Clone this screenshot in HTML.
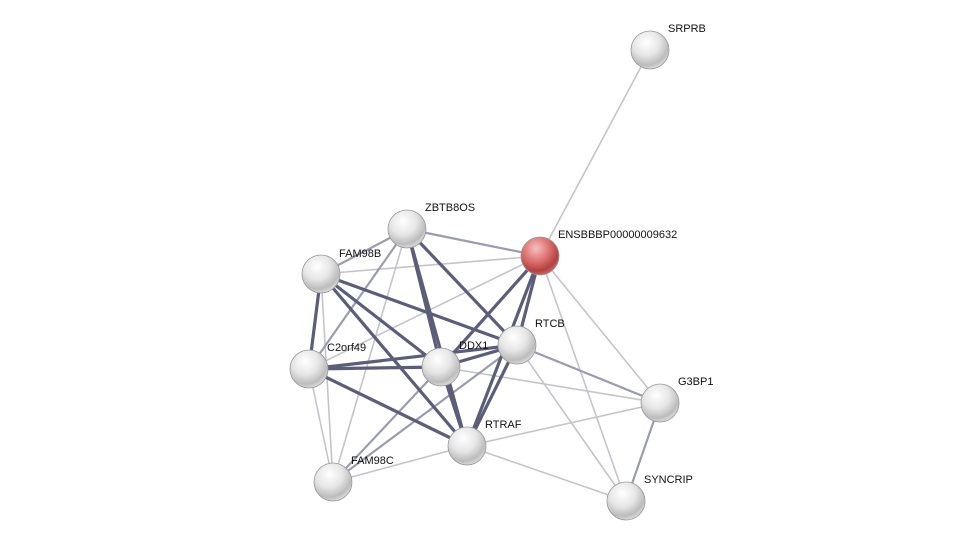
<!DOCTYPE html>
<html><head><meta charset="utf-8"><style>
html,body{margin:0;padding:0;background:#fff;}
svg{display:block;}
text{font-family:"Liberation Sans",sans-serif;font-size:11px;fill:#111;}
</style></head><body>
<svg width="975" height="546" viewBox="0 0 975 546" xmlns="http://www.w3.org/2000/svg">
<defs>
<radialGradient id="g" cx="40%" cy="30%" r="70%">
<stop offset="0" stop-color="#ffffff"/><stop offset="0.5" stop-color="#e6e6e6"/><stop offset="0.85" stop-color="#bcbcbc"/><stop offset="1" stop-color="#d8d8d8"/>
</radialGradient>
<radialGradient id="r" cx="40%" cy="30%" r="70%">
<stop offset="0" stop-color="#f6c0c0"/><stop offset="0.5" stop-color="#dd7070"/><stop offset="0.85" stop-color="#b34040"/><stop offset="1" stop-color="#c86060"/>
</radialGradient>
</defs>
<g stroke-linecap="round">
<!-- light -->
<g stroke="#c4c4cc" stroke-width="1.6">
<line x1="540" y1="256" x2="650" y2="50"/>
<line x1="540" y1="256" x2="321" y2="274"/>
<line x1="540" y1="256" x2="309" y2="369"/>
<line x1="540" y1="256" x2="660" y2="403"/>
<line x1="540" y1="256" x2="626" y2="501"/>
<line x1="407" y1="229" x2="333" y2="482"/>
<line x1="321" y1="274" x2="333" y2="482"/>
<line x1="309" y1="369" x2="333" y2="482"/>
<line x1="441" y1="367" x2="660" y2="403"/>
<line x1="517" y1="345" x2="626" y2="501"/>
<line x1="467" y1="446" x2="333" y2="482"/>
<line x1="467" y1="446" x2="660" y2="403"/>
<line x1="467" y1="446" x2="626" y2="501"/>
</g>
<!-- medium -->
<g stroke="#9a9cb0" stroke-width="2.2">
<line x1="540" y1="256" x2="407" y2="229"/>
<line x1="407" y1="229" x2="309" y2="369"/>
<line x1="407" y1="229" x2="321" y2="274"/>
<line x1="441" y1="367" x2="333" y2="482"/>
<line x1="517" y1="345" x2="333" y2="482"/>
<line x1="517" y1="345" x2="660" y2="403"/>
<line x1="660" y1="403" x2="626" y2="501"/>
</g>
<!-- dark -->
<g stroke="#5a5e78" stroke-width="3.2">
<line x1="540" y1="256" x2="441" y2="367"/>
<line x1="540" y1="256" x2="517" y2="345"/>
<line x1="540" y1="256" x2="467" y2="446"/>
<line x1="407" y1="229" x2="441" y2="367"/>
<line x1="407" y1="229" x2="517" y2="345"/>
<line x1="407" y1="229" x2="467" y2="446"/>
<line x1="321" y1="274" x2="441" y2="367"/>
<line x1="321" y1="274" x2="517" y2="345"/>
<line x1="321" y1="274" x2="467" y2="446"/>
<line x1="321" y1="274" x2="309" y2="369"/>
<line x1="309" y1="369" x2="441" y2="367"/>
<line x1="309" y1="369" x2="517" y2="345"/>
<line x1="309" y1="369" x2="467" y2="446"/>
<line x1="441" y1="367" x2="517" y2="345"/>
<line x1="441" y1="367" x2="467" y2="446"/>
<line x1="517" y1="345" x2="467" y2="446"/>
</g>
</g>
<g stroke="#999" stroke-width="0.8">
<circle cx="650" cy="50" r="19" fill="url(#g)"/>
<circle cx="540" cy="256" r="19" fill="url(#r)"/>
<circle cx="407" cy="229" r="19" fill="url(#g)"/>
<circle cx="321" cy="274" r="19" fill="url(#g)"/>
<circle cx="309" cy="369" r="19" fill="url(#g)"/>
<circle cx="441" cy="367" r="19" fill="url(#g)"/>
<circle cx="517" cy="345" r="19" fill="url(#g)"/>
<circle cx="660" cy="403" r="19" fill="url(#g)"/>
<circle cx="467" cy="446" r="19" fill="url(#g)"/>
<circle cx="333" cy="482" r="19" fill="url(#g)"/>
<circle cx="626" cy="501" r="19" fill="url(#g)"/>
</g>
<text x="668" y="32">SRPRB</text>
<text x="558" y="238">ENSBBBP00000009632</text>
<text x="425" y="211">ZBTB8OS</text>
<text x="339" y="257">FAM98B</text>
<text x="327" y="351">C2orf49</text>
<text x="459" y="349">DDX1</text>
<text x="535" y="327">RTCB</text>
<text x="678" y="385">G3BP1</text>
<text x="485" y="428">RTRAF</text>
<text x="351" y="464">FAM98C</text>
<text x="644" y="483">SYNCRIP</text>
</svg>
</body></html>
